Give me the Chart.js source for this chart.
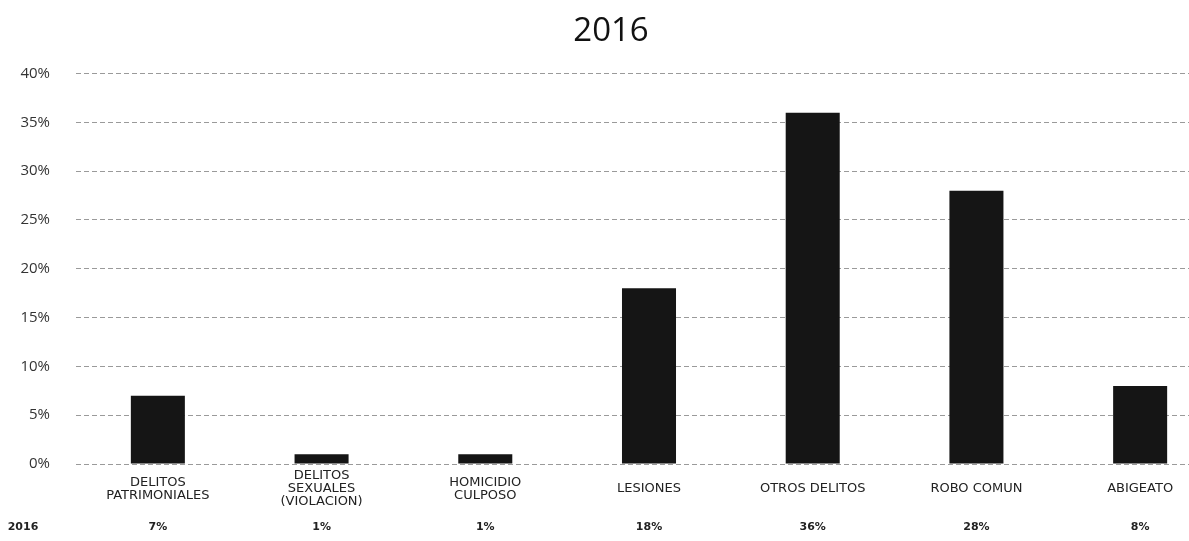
<!DOCTYPE html>
<html>
<head>
<meta charset="utf-8">
<script src="https://cdn.jsdelivr.net/npm/chart.js@4.4.0/dist/chart.umd.min.js"></script>
<style>
  html, body { margin: 0; padding: 0; background: #fff; overflow: hidden; }
  /* la imagen original esta recortada a la derecha */
  #wrap { width: 1222px; height: 541px; }
</style>
</head>
<body>
<div id="wrap"><canvas id="delitos_2016"></canvas></div>
<script>
// categorias y valores (porcentaje de delitos, 2016)
const Categorias = [
    ['DELITOS', 'PATRIMONIALES'],
    ['DELITOS', 'SEXUALES', '(VIOLACION)'],
    ['HOMICIDIO', 'CULPOSO'],
    'LESIONES',
    'OTROS DELITOS',
    'ROBO COMUN',
    'ABIGEATO'
];
const Porcentaje_2016 = [7, 1, 1, 18, 36, 28, 8];
const Ticks_Y = [0, 5, 10, 15, 20, 25, 30, 35, 40];
const Serie = '2016';

// fila de tabla bajo el eje x
const tablaPlugin = {
    id: 'tabla',
    afterDraw(chart) {
        const { ctx, scales: { x } } = chart;
        const y = 527;
        ctx.save();
        ctx.fillStyle = '#222';
        ctx.font = 'bold 11px "DejaVu Sans", sans-serif';
        ctx.textAlign = 'center';
        ctx.textBaseline = 'middle';
        ctx.fillText(Serie, 23, y);
        Porcentaje_2016.forEach((v, i) => {
            ctx.fillText(v + '%', x.getPixelForValue(i), y);
        });
        ctx.restore();
    }
};

const ctx_delitos = document.getElementById('delitos_2016');

new Chart(ctx_delitos, {
    type: 'bar',
    data: {
        labels: Categorias,
        datasets: [
            {
                label: Serie,
                data: Porcentaje_2016,
                backgroundColor: '#151515',
                borderWidth: 0,
                barPercentage: 0.33,
                categoryPercentage: 1
            }
        ]
    },
    plugins: [tablaPlugin],
    options: {
        responsive: true,
        maintainAspectRatio: false,
        animation: false,
        layout: {
            padding: { top: 0, right: 0, left: 0, bottom: 22 }
        },
        scales: {
            x: {
                grid: { display: false },
                border: { display: false },
                ticks: {
                    color: '#222',
                    maxRotation: 0,
                    autoSkip: false,
                    crossAlign: 'center',
                    padding: 4,
                    font: { family: '"DejaVu Sans", sans-serif', size: 13, lineHeight: 1.0 }
                }
            },
            y: {
                min: 0,
                max: 40,
                afterFit(scale) { scale.width = 76; },
                afterBuildTicks(scale) {
                    scale.ticks = Ticks_Y.map(v => ({ value: v }));
                },
                grid: {
                    color: '#9a9a9a',
                    lineWidth: 1,
                    drawTicks: false
                },
                border: { display: false, dash: [5, 3] },
                ticks: {
                    color: '#333',
                    padding: 26,
                    font: { family: '"Open Sans", sans-serif', size: 15 },
                    callback: v => v + '%'
                }
            }
        },
        plugins: {
            legend: { display: false },
            tooltip: { enabled: false },
            title: {
                display: true,
                text: '2016',
                color: '#111',
                font: { family: '"Open Sans", sans-serif', size: 33, weight: 'normal' },
                padding: { top: 12, bottom: 22 }
            }
        }
    }
});
</script>
</body>
</html>
